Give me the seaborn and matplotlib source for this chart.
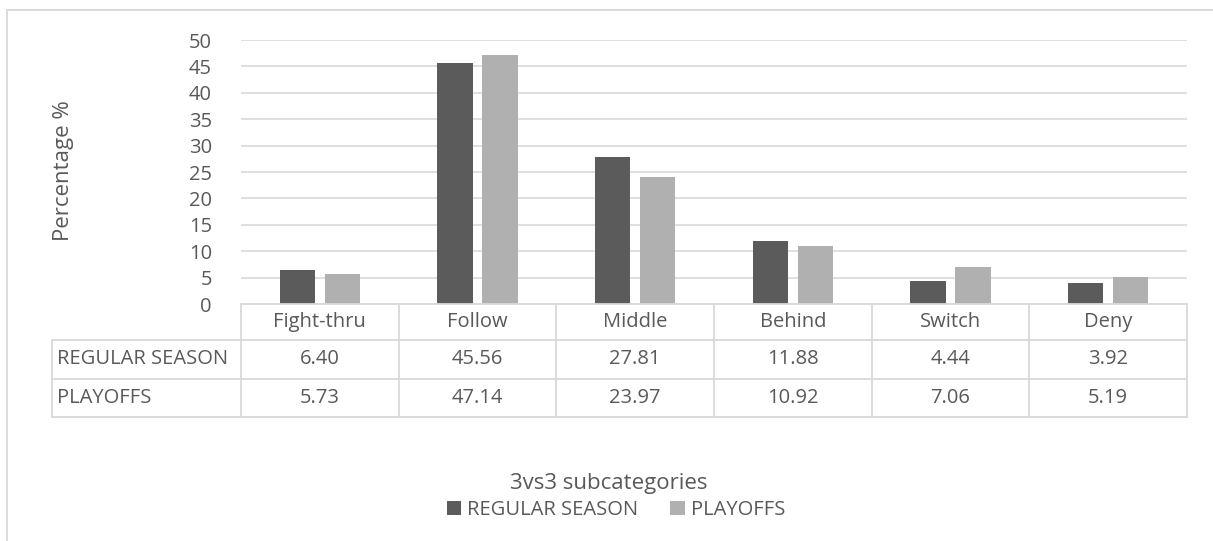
import matplotlib
matplotlib.use("Agg")
import matplotlib.pyplot as plt
import matplotlib.transforms as mtransforms
from matplotlib.lines import Line2D
import seaborn as sns
import pandas as pd

categories = ["Fight-thru", "Follow", "Middle", "Behind", "Switch", "Deny"]
series_names = ["REGULAR SEASON", "PLAYOFFS"]
regular_season = [6.40, 45.56, 27.81, 11.88, 4.44, 3.92]
playoffs = [5.73, 47.14, 23.97, 10.92, 7.06, 5.19]
y_ticks = [0, 5, 10, 15, 20, 25, 30, 35, 40, 45, 50]

df = pd.DataFrame({
    "category": categories * 2,
    "series": [series_names[0]] * len(categories) + [series_names[1]] * len(categories),
    "value": regular_season + playoffs,
})

sns.set_theme(style="white")
FONT = ["Open Sans", "DejaVu Sans"]
plt.rcParams["font.family"] = FONT
TXT = "#595959"
GRID = "#d9d9d9"
FS = 14.5
FT = 16

W, H = 1213, 541
fig = plt.figure(figsize=(W / 100, H / 100), dpi=100)
ax = fig.add_axes([241 / W, 1 - 304 / H, 946 / W, 264 / H])

sns.barplot(data=df, x="category", y="value", hue="series", order=categories,
            hue_order=series_names, palette=["#5b5b5b", "#b0b0b0"],
            width=0.571, gap=0.222, ax=ax, saturation=1, edgecolor="none")

ax.set_xlim(-0.5, len(categories) - 0.5)
ax.set_ylim(0, 50)
ax.set_yticks(y_ticks)
ax.set_yticklabels([str(t) for t in y_ticks], fontsize=FS, color=TXT)
ax.tick_params(axis="y", length=0, pad=21)
ax.set_xticks([])
ax.set_xlabel("")
ax.set_ylabel("")
ax.yaxis.grid(True, color=GRID, linewidth=1.2)
ax.set_axisbelow(True)
for s in ax.spines.values():
    s.set_visible(False)

handles, labels = ax.get_legend_handles_labels()
if ax.get_legend() is not None:
    ax.get_legend().remove()

# Data table below the axis
bt = mtransforms.blended_transform_factory(ax.transData, fig.transFigure)
def fy(py):
    return 1 - py / H

y_top, y_h, y_r1, y_r2 = 304, 340, 379, 417
row_left = 52
lk = dict(color=GRID, linewidth=1.3)
fig.add_artist(Line2D([-0.5, len(categories) - 0.5], [fy(y_top)] * 2, transform=bt, **lk))
for yy in (y_h, y_r1, y_r2):
    fig.add_artist(Line2D([row_left / W, 1187 / W], [fy(yy)] * 2, transform=fig.transFigure, **lk))
for k in range(len(categories) + 1):
    fig.add_artist(Line2D([k - 0.5, k - 0.5], [fy(y_top), fy(y_r2)], transform=bt, **lk))
fig.add_artist(Line2D([row_left / W] * 2, [fy(y_h), fy(y_r2)], transform=fig.transFigure, **lk))

for i, c in enumerate(categories):
    fig.text(i, fy((y_top + y_h) / 2), c, transform=bt, ha="center", va="center", fontsize=FS, color=TXT)
    fig.text(i, fy((y_h + y_r1) / 2), f"{regular_season[i]:.2f}", transform=bt, ha="center", va="center", fontsize=FS, color=TXT)
    fig.text(i, fy((y_r1 + y_r2) / 2), f"{playoffs[i]:.2f}", transform=bt, ha="center", va="center", fontsize=FS, color=TXT)
fig.text(57 / W, fy((y_h + y_r1) / 2), series_names[0], ha="left", va="center", fontsize=FS, color=TXT)
fig.text(57 / W, fy((y_r1 + y_r2) / 2), series_names[1], ha="left", va="center", fontsize=FS, color=TXT)

# Axis titles
fig.text(64 / W, fy(171), "Percentage %", rotation=90, ha="center", va="center", fontsize=FT, color=TXT)
fig.text(609 / W, fy(483), "3vs3 subcategories", ha="center", va="center", fontsize=FT, color=TXT)

fig.legend(handles, labels, loc="center", bbox_to_anchor=(616 / W, fy(510)), ncol=2,
           frameon=False, fontsize=FS, handlelength=0.7, handleheight=0.7,
           handletextpad=0.3, columnspacing=1.6, labelcolor=TXT)

# Chart area border (top and left visible)
fig.add_artist(Line2D([7 / W, 7 / W], [0, fy(10)], transform=fig.transFigure, color=GRID, linewidth=1.3))
fig.add_artist(Line2D([7 / W, 1], [fy(10), fy(10)], transform=fig.transFigure, color=GRID, linewidth=1.3))

fig.savefig("out.png", dpi=100, facecolor="white")
